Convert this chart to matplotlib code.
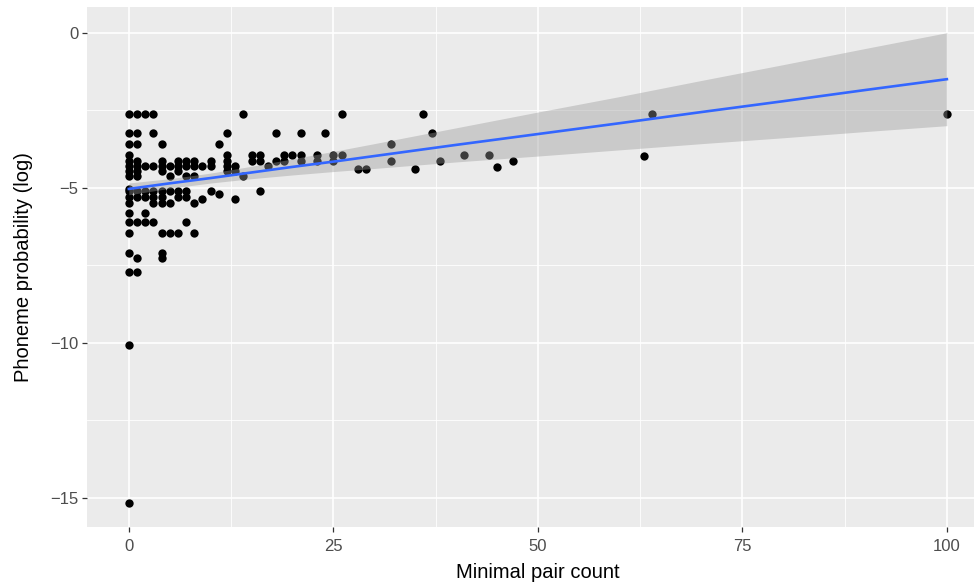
import matplotlib
matplotlib.use("Agg")
import matplotlib.pyplot as plt
import numpy as np

# ---- data ----
pair_count = [
    0, 0, 0, 0, 0, 0, 0, 0, 0, 0, 0, 0, 0, 0, 0, 0, 0, 0, 0,
    1, 1, 1, 1, 1, 1, 1, 1, 1, 1, 1, 1,
    2, 2, 2, 2, 2, 2,
    3, 3, 3, 3, 3, 3, 3,
    4, 4, 4, 4, 4, 4, 4, 4, 4, 4,
    5, 5, 5, 5, 5,
    6, 6, 6, 6, 6, 6,
    7, 7, 7, 7, 7, 7,
    8, 8, 8, 8, 8,
    9, 9,
    10, 10, 10,
    11, 11,
    12, 12, 12, 12, 12,
    13, 13, 13,
    14, 14,
    15, 15,
    16, 16, 16,
    17,
    18, 18,
    19, 19,
    20,
    21, 21, 21,
    23, 23,
    24,
    25, 25,
    26, 26,
    28, 29, 32, 32, 35, 36, 37, 38, 41, 44, 45, 47,
    63, 64, 100,
]
log_prob = [
    -2.61, -3.22, -3.57, -3.93, -4.12, -4.28, -4.44, -4.61, -5.02, -5.10, -5.30, -5.50, -5.80, -6.10, -6.45, -7.10, -7.70, -10.08, -15.17,
    -2.61, -3.22, -3.57, -4.12, -4.28, -4.44, -4.61, -5.10, -5.30, -6.10, -7.25, -7.70,
    -2.61, -4.28, -5.10, -5.30, -5.80, -6.10,
    -2.61, -3.22, -4.28, -5.10, -5.30, -5.50, -6.10,
    -3.57, -4.12, -4.28, -4.44, -5.10, -5.30, -5.50, -6.45, -7.10, -7.25,
    -4.28, -4.61, -5.10, -5.50, -6.45,
    -4.12, -4.28, -4.44, -5.10, -5.30, -6.45,
    -4.12, -4.28, -4.61, -5.10, -5.30, -6.10,
    -4.12, -4.28, -4.61, -5.50, -6.45,
    -4.28, -5.35,
    -4.12, -4.28, -5.09,
    -3.57, -5.19,
    -3.22, -3.93, -4.12, -4.28, -4.44,
    -4.28, -4.44, -5.35,
    -2.61, -4.61,
    -3.93, -4.12,
    -3.93, -4.12, -5.09,
    -4.28,
    -3.22, -4.12,
    -3.93, -4.12,
    -3.93,
    -3.22, -3.93, -4.12,
    -3.93, -4.12,
    -3.22,
    -3.93, -4.12,
    -2.61, -3.93,
    -4.38, -4.38, -3.57, -4.12, -4.38, -2.61, -3.22, -4.12, -3.93, -3.93, -4.31, -4.12,
    -3.96, -2.61, -2.61,
]

# fitted line and confidence band
fit_x = [0, 5, 10, 15, 20, 25, 30, 40, 50, 60, 70, 80, 90, 100]
fit_y = [-5.03, -4.85, -4.68, -4.50, -4.32, -4.15, -3.97, -3.61, -3.26, -2.91, -2.55, -2.20, -1.84, -1.49]
band_lo = [-5.22, -5.01, -4.84, -4.70, -4.58, -4.47, -4.37, -4.16, -3.97, -3.77, -3.57, -3.38, -3.18, -2.99]
band_hi = [-4.84, -4.70, -4.52, -4.30, -4.06, -3.82, -3.57, -3.06, -2.55, -2.05, -1.53, -1.02, -0.50, 0.01]

x_ticks = [0, 25, 50, 75, 100]
y_ticks = [0, -5, -10, -15]

plt.rcParams['font.family'] = ['Liberation Sans', 'DejaVu Sans']

W, H = 974, 583
fig = plt.figure(figsize=(W / 100, H / 100), dpi=100)
left_px, right_px, top_px, bottom_px = 86.7, 989.0, 7.3, 526.7
ax = fig.add_axes([left_px / W, 1 - bottom_px / H, (right_px - left_px) / W, (bottom_px - top_px) / H])

ax.set_facecolor('#EBEBEB')
for s in ax.spines.values():
    s.set_visible(False)

ax.set_xlim(-5.15, 105.15)
ax.set_ylim(-15.93, 0.83)
ax.set_xticks(x_ticks)
ax.set_yticks(y_ticks)
ax.set_xticks([12.5, 37.5, 62.5, 87.5], minor=True)
ax.set_yticks([-2.5, -7.5, -12.5], minor=True)
ax.grid(which='major', color='white', linewidth=1.2)
ax.grid(which='minor', color='white', linewidth=0.6)
ax.set_axisbelow(True)
ax.tick_params(which='minor', length=0)
ax.tick_params(which='major', length=3.6, width=0.9, color='#333333',
               labelsize=12, labelcolor='#4D4D4D')
ax.tick_params(axis='x', pad=5)
ax.tick_params(axis='y', pad=2.5)
ax.set_xticklabels([str(v) for v in x_ticks])
ax.set_yticklabels(['0', '\u22125', '\u221210', '\u221215'])

ax.scatter(pair_count, log_prob, s=36, color='black', linewidths=0, zorder=2)
ax.fill_between(fit_x, band_lo, band_hi, color='#999999', alpha=0.4, linewidth=0, zorder=3)
ax.plot(fit_x, fit_y, color='#3366FF', linewidth=1.9, zorder=4)

ax.set_xlabel('Minimal pair count', fontsize=14.5, labelpad=7)
ax.set_ylabel('Phoneme probability (log)', fontsize=14.5, labelpad=12)

fig.savefig('out.png', dpi=100)
